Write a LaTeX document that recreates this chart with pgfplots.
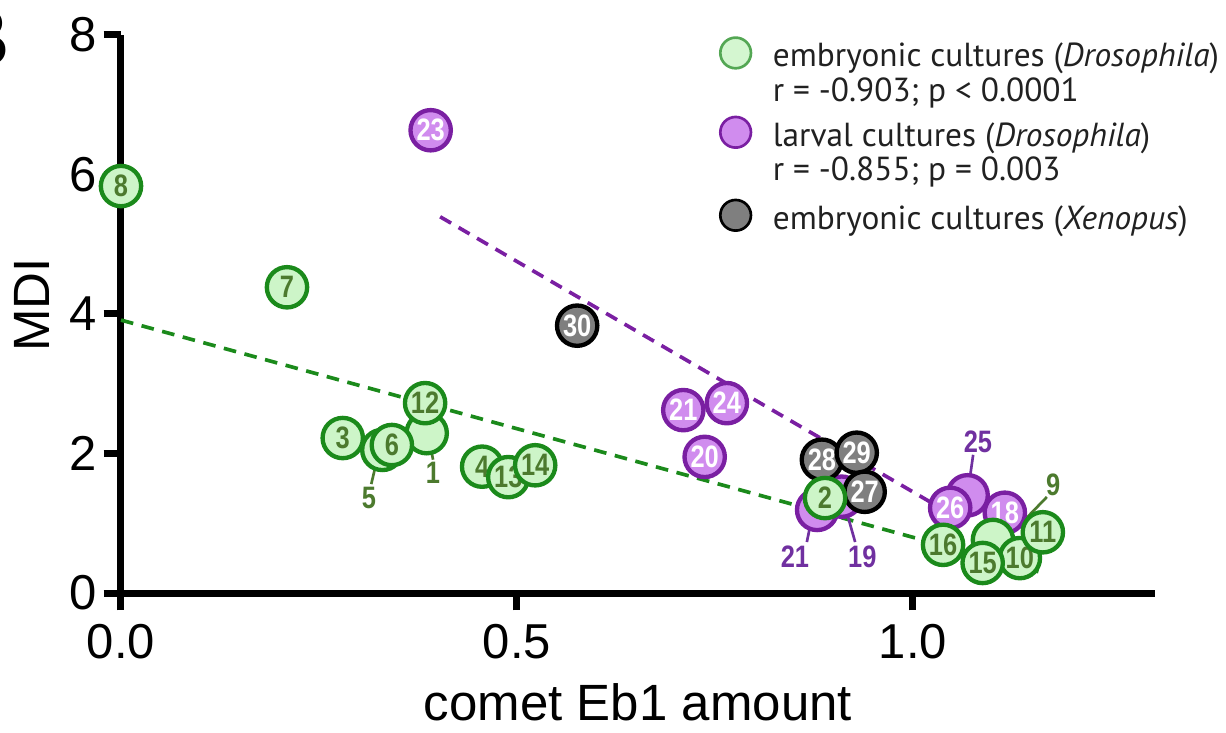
\documentclass[border=0pt]{standalone}
\usepackage{fontspec}
\setmainfont{Liberation Sans}
\newfontfamily\numfont{Liberation Sans}[FakeStretch=0.82]
\newfontfamily\legfont{PT Sans}
\usepackage{pgfplots}
\pgfplotsset{compat=1.18}
\definecolor{gfill}{HTML}{CDF5C8}
\definecolor{gline}{HTML}{1B8A1B}
\definecolor{gtext}{HTML}{4C7A2E}
\definecolor{pfill}{HTML}{D08CEE}
\definecolor{pline}{HTML}{7A1FA2}
\definecolor{ptext}{HTML}{7030A0}
\definecolor{kfill}{HTML}{7F7F7F}
\pgfplotsset{
  gpt/.style={forget plot, only marks, mark=*, mark size=6.05pt, mark options={fill=gfill, draw=gline, line width=1.3pt}},
  ppt/.style={forget plot, only marks, mark=*, mark size=6.05pt, mark options={fill=pfill, draw=pline, line width=1.3pt}},
  kpt/.style={forget plot, only marks, mark=*, mark size=6.05pt, mark options={fill=kfill, draw=black, line width=1.3pt}},
  lab/.style={nodes near coords, point meta=explicit symbolic, nodes near coords align=center,
    every node near coord/.append style={font=\numfont\bfseries\fontsize{9.3}{9.3}\selectfont, text=#1, inner sep=0pt}},
}
\newcommand{\nf}{\numfont\bfseries\fontsize{9.3}{9.3}\selectfont}
\begin{document}
\begin{tikzpicture}
\begin{axis}[
  scale only axis, width=310.2pt, height=167.52pt,
  xmin=0, xmax=1.3056, ymin=0, ymax=8,
  axis x line=bottom, axis y line=left,
  axis line style={line width=2.1pt, -},
  tick style={black, line width=2.1pt},
  tick align=outside, major tick length=5.2pt,
  xtick={0,0.5,1}, xticklabels={0.0,0.5,1.0},
  ytick={0,2,4,6,8},
  /pgf/number format/assume math mode=true,
  tick label style={font=\fontsize{14.7}{14.7}\selectfont},
  xticklabel style={inner sep=3.9pt},
  yticklabel style={inner sep=2pt},
  xlabel={comet Eb1 amount},
  ylabel={MDI},
  label style={font=\fontsize{15.3}{15.3}\selectfont},
  xlabel style={at={(axis description cs:0.5,-0.2276)}, anchor=base},
  ylabel style={at={(axis description cs:-0.0687,0.516)}, anchor=base},
  clip=false,
  legend image code/.code={\draw[#1] plot coordinates {(0pt,0pt)};},
  legend cell align=left,
  legend style={at={(axis description cs:0.5796,1.0358)}, anchor=north west, draw=none, fill=none,
    inner sep=0pt, outer sep=0pt, row sep=0pt, column sep=6.6pt,
    font=\legfont\fontsize{10}{9.3}\selectfont, text=black!87, nodes={inner sep=0pt, text depth=}},
]
% regression lines
\addplot[forget plot, gline, line width=1.1pt, dash pattern=on 3.8pt off 2.6pt] coordinates {(0,3.91) (1.16,0.30)};
\addplot[forget plot, pline, line width=1.1pt, dash pattern=on 3.8pt off 2.6pt] coordinates {(0.403,5.39) (1.03,1.25)};
% larval (purple), hidden labels
\addplot[ppt] table {
x y
0.879 1.19
0.910 1.38
1.069 1.40
};
\addplot[ppt, lab=white] table[meta=l] {
x y l
0.391 6.63 23
0.710 2.62 21
0.765 2.72 24
0.737 1.95 20
1.047 1.22 26
1.116 1.15 18
};
% Xenopus (grey)
\addplot[kpt, lab=white] table[meta=l] {
x y l
0.576 3.83 30
0.885 1.91 28
0.929 2.01 29
0.939 1.45 27
};
% embryonic (green), hidden labels
\addplot[gpt] table {
x y
0.330 2.05
0.386 2.29
1.101 0.76
};
\addplot[gpt, lab=gtext] table[meta=l] {
x y l
0 5.83 8
0.2096 4.38 7
0.280 2.22 3
0.342 2.12 6
0.384 2.72 12
0.456 1.81 4
0.489 1.66 13
0.523 1.83 14
0.889 1.36 2
1.038 0.69 16
1.135 0.50 10
1.088 0.43 15
1.164 0.87 11
};
% outside labels with leader lines
\draw[gtext, line width=0.8pt] (axis cs:0.321,1.80) -- (axis cs:0.316,1.56);
\node[font=\nf, text=gtext, inner sep=0pt] at (axis cs:0.313,1.36) {5};
\draw[gtext, line width=0.8pt] (axis cs:0.391,2.09) -- (axis cs:0.394,1.91);
\node[font=\nf, text=gtext, inner sep=0pt] at (axis cs:0.394,1.72) {1};
\draw[gtext, line width=0.8pt] (axis cs:1.169,1.375) -- (axis cs:1.1225,0.83);
\node[font=\nf, text=gtext, inner sep=0pt] at (axis cs:1.177,1.55) {9};
\draw[ptext, line width=0.8pt] (axis cs:1.076,1.98) -- (axis cs:1.072,1.66);
\node[font=\nf, text=ptext, inner sep=0pt] at (axis cs:1.082,2.16) {25};
\draw[ptext, line width=0.8pt] (axis cs:0.870,0.95) -- (axis cs:0.866,0.73);
\node[font=\nf, text=ptext, inner sep=0pt] at (axis cs:0.851,0.52) {21};
\draw[ptext, line width=0.8pt] (axis cs:0.918,1.09) -- (axis cs:0.927,0.73);
\node[font=\nf, text=ptext, inner sep=0pt] at (axis cs:0.936,0.52) {19};
% legend
\addlegendimage{mark=*, mark size=4.6pt, mark options={fill=gfill!85, draw=gline!75!white, line width=0.8pt}}
\addlegendentry{\raisebox{0pt}[15.7pt][7.3pt]{\vtop{\hbox{embryonic cultures (\textit{Drosophila})}\hbox{r = -0.903; p < 0.0001}}}}
\addlegendimage{mark=*, mark size=4.6pt, mark options={fill=pfill, draw=pline, line width=0.8pt}}
\addlegendentry{\raisebox{0pt}[16.5pt][8.1pt]{\vtop{\hbox{larval cultures (\textit{Drosophila})}\hbox{r = -0.855; p = 0.003}}}}
\addlegendimage{mark=*, mark size=4.6pt, mark options={fill=kfill, draw=black, line width=0.8pt}}
\addlegendentry{\raisebox{0pt}[16.8pt][8.4pt]{embryonic cultures (\textit{Xenopus})}}
\coordinate (o) at (axis cs:0,0);
\end{axis}
\node[anchor=south east, inner sep=0pt, font=\bfseries\fontsize{25}{25}\selectfont] at ([shift={(-33.15pt,157.8pt)}]o) {B};
\pgfresetboundingbox
\path[use as bounding box] ([shift={(-36.3pt,-42pt)}]o) rectangle ([shift={(331.5pt,177.9pt)}]o);
\end{tikzpicture}
\end{document}
